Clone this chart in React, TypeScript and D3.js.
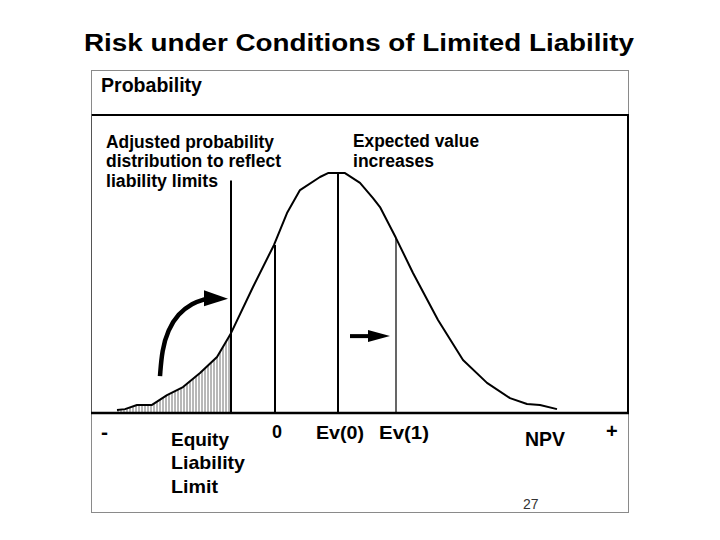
import React from 'react';
import * as d3 from 'd3';

// data: NPV (arbitrary units, 0 = break-even) and probability density
const npvValues = [
  -7.9, -7.5, -6.9, -6.15, -5.4, -4.6, -3.75, -2.9, -2.2, -1.1, -0.05, 0.6, 1.25, 2.25, 2.65, 3.5,
  4.25, 4.9, 5.25, 6.05, 6.9, 8.15, 8.4, 9.4, 10.6, 11.75, 12.6, 13.25, 14.1,
];
const probValues = [
  0.01, 0.013, 0.027, 0.027, 0.06, 0.087, 0.134, 0.188, 0.268, 0.423, 0.564, 0.671, 0.748, 0.792, 0.805, 0.805,
  0.772, 0.721, 0.691, 0.587, 0.47, 0.312, 0.285, 0.178, 0.101, 0.05, 0.03, 0.027, 0.013,
];

// reference lines: position on NPV axis and height of the line
const markerNames = ['equity', 'zero', 'ev0', 'ev1'];
const markerNpv = [-2.2, 0, 3.15, 6.05];
const markerTop = [0.78, 0.564, 0.805, 0.587];
const markerWidth = [2, 2, 2, 1.2];

const equityLimit = -2.2;

// annotation arrows (in chart units)
const bendArrowNpv = [-5.75, -5.65, -5.35, -4.85, -4.15, -3.45];
const bendArrowProb = [0.124, 0.211, 0.279, 0.332, 0.369, 0.383];
const bendArrowTip = [-2.35, 0.383];
const shiftArrow = { from: 3.75, to: 5.75, prob: 0.258 };

const font = '"Liberation Sans", Arial, Helvetica, sans-serif';

export default function App() {
  const width = 720;
  const height = 540;
  const plot = { left: 91, right: 628, top: 114, bottom: 413 };

  // zero of the NPV axis sits 184px from the left frame, 20px per unit
  const x = d3
    .scaleLinear()
    .domain([-(275 - plot.left) / 20, (plot.right - 275) / 20])
    .range([plot.left, plot.right]);
  const y = d3.scaleLinear().domain([0, 1]).range([plot.bottom, plot.top + 1]);

  const points = npvValues.map((v, i) => ({ npv: v, p: probValues[i] }));
  const line = d3
    .line<{ npv: number; p: number }>()
    .x((d) => x(d.npv))
    .y((d) => y(d.p))
    .curve(d3.curveLinear);
  const area = d3
    .area<{ npv: number; p: number }>()
    .x((d) => x(d.npv))
    .y0(y(0))
    .y1((d) => y(d.p))
    .curve(d3.curveLinear);
  const leftPart = points.filter((d) => d.npv <= equityLimit);

  const bendPts: [number, number][] = bendArrowNpv.map((v, i) => [x(v), y(bendArrowProb[i])]);
  const bendPath = d3.line().curve(d3.curveBasis)(bendPts);
  const bx = x(bendArrowNpv[bendArrowNpv.length - 1]);
  const by = y(bendArrowProb[bendArrowProb.length - 1]);
  const tipX = x(bendArrowTip[0]);
  const tipY = y(bendArrowTip[1]);

  const sY = y(shiftArrow.prob);
  const sTip = x(shiftArrow.to);
  const sFrom = x(shiftArrow.from);

  return (
    <svg
      width={width}
      height={height}
      style={{ position: 'absolute', left: 0, top: 0, background: '#fff' }}
      fontFamily={font}
    >
      <defs>
        <pattern id='hatch' width='3' height='6' patternUnits='userSpaceOnUse'>
          <line x1='1' x2='1' y1='0' y2='6' stroke='#6f6f6f' strokeWidth='1' />
        </pattern>
      </defs>
      <rect width={width} height={height} fill='#fff' />

      {/* title */}
      <text x={84} y={51} fontSize={23} fontWeight='bold' textLength={550} lengthAdjust='spacingAndGlyphs'>
        Risk under Conditions of Limited Liability
      </text>

      {/* outer frame */}
      <rect x={91.5} y={70.5} width={537} height={442} fill='none' stroke='#8a8a8a' strokeWidth={1} />
      {/* inner chart frame */}
      <line x1={91} x2={629} y1={plot.top + 1} y2={plot.top + 1} stroke='#000' strokeWidth={2} />
      <line x1={plot.right} x2={plot.right} y1={plot.top} y2={plot.bottom} stroke='#000' strokeWidth={2} />
      <line x1={91.5} x2={91.5} y1={plot.top} y2={plot.bottom} stroke='#555' strokeWidth={1} />

      <text x={101} y={92} fontSize={20} fontWeight='bold' textLength={101} lengthAdjust='spacingAndGlyphs'>
        Probability
      </text>

      {/* hatched adjusted part */}
      <path d={area(leftPart) || ''} fill='url(#hatch)' />

      {/* reference lines */}
      {markerNames.map((m, i) => (
        <line
          key={m}
          x1={x(markerNpv[i])}
          x2={x(markerNpv[i])}
          y1={y(markerTop[i])}
          y2={y(0)}
          stroke='#000'
          strokeWidth={markerWidth[i]}
        />
      ))}

      {/* distribution */}
      <path d={line(points) || ''} fill='none' stroke='#000' strokeWidth={2} strokeLinejoin='round' />

      {/* axis */}
      <line x1={91} x2={629} y1={y(0)} y2={y(0)} stroke='#000' strokeWidth={2.5} />

      {/* bent arrow */}
      <path d={bendPath || ''} fill='none' stroke='#000' strokeWidth={4.5} />
      <path d={`M${bx - 2},${by - 8.5} L${tipX},${tipY} L${bx - 2},${by + 7.5} Z`} fill='#000' />

      {/* shift arrow */}
      <line x1={sFrom} x2={sTip - 18} y1={sY} y2={sY} stroke='#000' strokeWidth={4} />
      <path d={`M${sTip - 22},${sY - 6} L${sTip},${sY} L${sTip - 22},${sY + 6} Z`} fill='#000' />

      {/* annotations */}
      <g fontSize={18} fontWeight='bold'>
        <text x={106} y={148} textLength={168} lengthAdjust='spacingAndGlyphs'>
          Adjusted probability
        </text>
        <text x={106} y={167} textLength={175} lengthAdjust='spacingAndGlyphs'>
          distribution to reflect
        </text>
        <text x={106} y={187} textLength={112} lengthAdjust='spacingAndGlyphs'>
          liability limits
        </text>
        <text x={353} y={147} textLength={126} lengthAdjust='spacingAndGlyphs'>
          Expected value
        </text>
        <text x={353} y={167} textLength={81} lengthAdjust='spacingAndGlyphs'>
          increases
        </text>
      </g>

      {/* axis labels */}
      <g fontWeight='bold'>
        <text x={101} y={439} fontSize={21}>
          -
        </text>
        <text x={171} y={446} fontSize={19} textLength={58} lengthAdjust='spacingAndGlyphs'>
          Equity
        </text>
        <text x={171} y={469} fontSize={19} textLength={74} lengthAdjust='spacingAndGlyphs'>
          Liability
        </text>
        <text x={171} y={493} fontSize={19} textLength={47} lengthAdjust='spacingAndGlyphs'>
          Limit
        </text>
        <text x={272} y={438} fontSize={18}>
          0
        </text>
        <text x={316} y={439} fontSize={19} textLength={48} lengthAdjust='spacingAndGlyphs'>
          Ev(0)
        </text>
        <text x={379} y={439} fontSize={19} textLength={50} lengthAdjust='spacingAndGlyphs'>
          Ev(1)
        </text>
        <text x={525} y={446} fontSize={20} textLength={40} lengthAdjust='spacingAndGlyphs'>
          NPV
        </text>
        <text x={606} y={438} fontSize={20}>
          +
        </text>
      </g>
      <text x={523} y={509} fontSize={14} fill='#333'>
        27
      </text>
    </svg>
  );
}
